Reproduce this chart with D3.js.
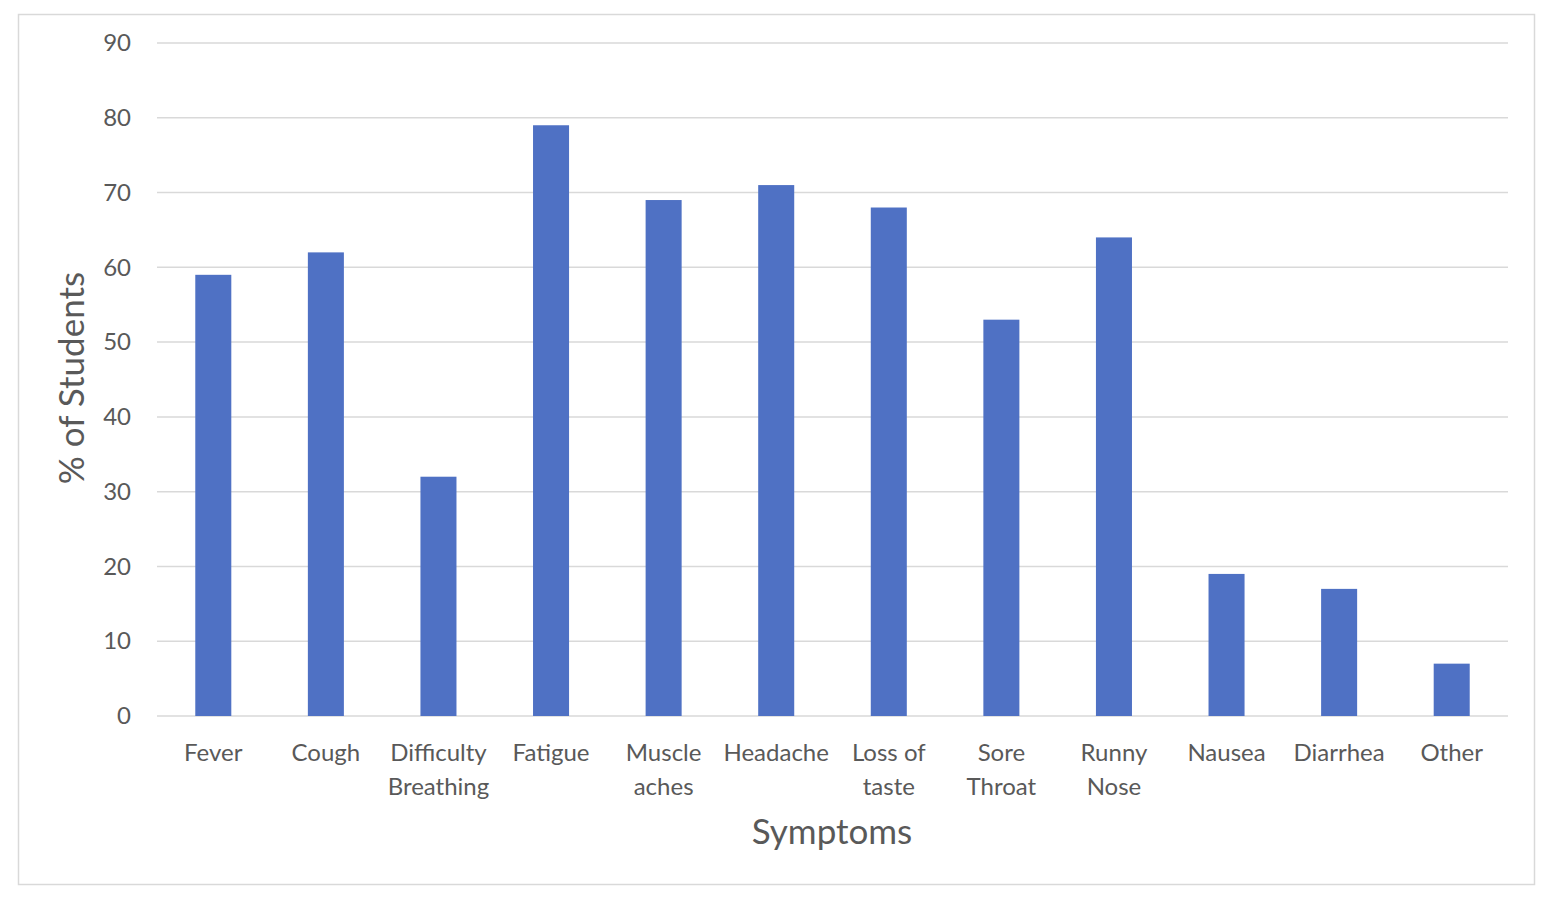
<!DOCTYPE html>
<html><head><meta charset="utf-8">
<script src="https://cdn.jsdelivr.net/npm/d3@7"></script>
<style>body{margin:0;background:#fff;} text{font-family:Lato,"Open Sans",sans-serif;fill:#595959;}</style>
</head><body>
<svg id="c" width="1550" height="900"></svg>
<script>
const categories = ["Fever","Cough","Difficulty Breathing","Fatigue","Muscle aches","Headache","Loss of taste","Sore Throat","Runny Nose","Nausea","Diarrhea","Other"];
const labelLines = [["Fever"],["Cough"],["Difficulty","Breathing"],["Fatigue"],["Muscle","aches"],["Headache"],["Loss of","taste"],["Sore","Throat"],["Runny","Nose"],["Nausea"],["Diarrhea"],["Other"]];
const values = [59,62,32,79,69,71,68,53,64,19,17,7];
const yTicks = [0,10,20,30,40,50,60,70,80,90];

const svg = d3.select("#c");
svg.append("rect").attr("x",18.5).attr("y",14.5).attr("width",1516).attr("height",870)
  .attr("fill","#fff").attr("stroke","#d9d9d9").attr("stroke-width",1.5);

const L=157, R=1508, T=43, B=716;
const x = d3.scaleBand().domain(categories).range([L,R]).paddingInner(0.68).paddingOuter(0.34);
const y = d3.scaleLinear().domain([0,90]).range([B,T]);

const g = svg.append("g");
g.selectAll("line.grid").data(yTicks).join("line").attr("class","grid")
  .attr("x1",L).attr("x2",R).attr("y1",d=>y(d)).attr("y2",d=>y(d))
  .attr("stroke","#d9d9d9").attr("stroke-width",1.5);

const yAxis = d3.axisLeft(y).tickValues(yTicks).tickSize(0).tickPadding(0);
const ya = svg.append("g").attr("transform",`translate(131,0)`).call(yAxis);
ya.select(".domain").remove();
ya.selectAll("text").attr("font-size",24).style("fill","#595959").style("font-family","Lato,'Open Sans',sans-serif");

g.selectAll("rect.bar").data(values).join("rect").attr("class","bar")
  .attr("x",(d,i)=>x(categories[i])).attr("width",x.bandwidth())
  .attr("y",d=>y(d)).attr("height",d=>B-y(d)).attr("fill","#4F71C4");

const xa = svg.append("g");
categories.forEach((c,i)=>{
  const t = xa.append("text").attr("x",x(c)+x.bandwidth()/2).attr("y",761)
    .attr("text-anchor","middle").attr("font-size",24);
  labelLines[i].forEach((ln,j)=>t.append("tspan").attr("x",x(c)+x.bandwidth()/2).attr("dy",j?34:0).text(ln));
});

svg.append("text").attr("x",832).attr("y",844).attr("text-anchor","middle").attr("font-size",35).text("Symptoms");
svg.append("text").attr("transform","translate(84,378) rotate(-90)").attr("text-anchor","middle").attr("font-size",35).text("% of Students");
</script>
</body></html>
